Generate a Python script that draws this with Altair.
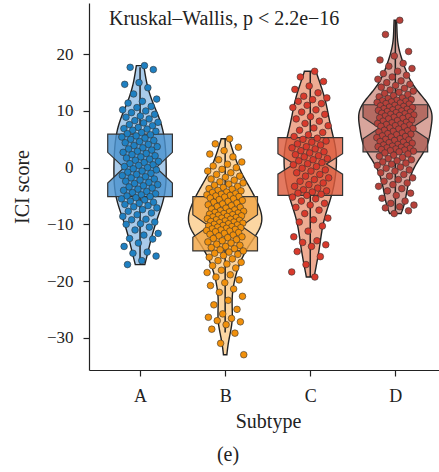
import altair as alt
import pandas as pd
import numpy as np

subtypes = ["A", "B", "C", "D"]
positions = [1, 2, 3, 4]

scores_A = [18.0, 17.7, 17.3, 15.0, 14.7, 14.1, 13.0, 12.1, 11.7, 11.4, 10.8, 10.6, 10.2, 10.0, 9.7, 9.4,
            9.1, 8.9, 8.6, 8.3, 8.0, 7.9, 7.6, 7.4, 7.1, 6.9, 6.8, 6.6, 6.4, 6.2, 6.0,
            5.8, 5.6, 5.4, 5.2, 5.0, 4.8, 4.6, 4.4, 4.1, 3.9, 3.7, 3.5, 3.3, 3.1, 2.9, 2.7,
            2.5, 2.3, 2.1, 1.9, 1.7, 1.5, 1.3, 1.1, 0.9, 0.7, 0.5, 0.4, 0.2, 0.0,
            -0.2, -0.4, -0.6, -0.8, -1.0, -1.2, -1.4, -1.6, -1.8, -2.0, -2.2, -2.4, -2.6,
            -2.8, -3.0, -3.2, -3.4, -3.6, -3.8, -4.0, -4.2, -4.4, -4.6, -4.8, -5.0, -5.1,
            -5.3, -5.5, -5.7, -5.9, -6.1, -6.3, -6.5, -6.7, -6.9, -7.1, -7.4, -7.7, -8.0, -8.3,
            -8.6, -9.1, -9.2, -9.6, -9.9, -10.0, -10.5, -11.0, -11.6, -11.9, -12.5, -12.6,
            -13.3, -13.9, -14.9, -15.1, -15.6, -16.4, -17.1]

scores_B = [5.1, 4.2, 3.6, 3.0, 2.4, 1.9, 1.4, 1.0, 0.6, 0.3, 0.0, -0.3, -0.6, -0.9, -1.2, -1.5,
            -1.7, -2.0, -2.2, -2.5, -2.7, -2.9, -3.1, -3.3, -3.5, -3.7, -3.8, -4.0, -4.1, -4.3,
            -4.4, -4.6, -4.7, -4.8, -4.9, -5.0, -5.1,
            -5.2, -5.35, -5.5, -5.65, -5.8, -5.95, -6.1, -6.25, -6.4, -6.55, -6.7, -6.85, -7.0,
            -7.15, -7.3, -7.45, -7.6, -7.7, -7.8, -7.9, -8.0, -8.1, -8.2, -8.3, -8.4, -8.5,
            -8.6, -8.7, -8.8, -8.9, -9.0, -9.1, -9.2, -9.3, -9.4, -9.5, -9.6, -9.7, -9.8,
            -9.9, -10.0, -10.1, -10.2,
            -10.3, -10.4, -10.5, -10.6, -10.7, -10.8, -10.9, -11.0, -11.1, -11.2, -11.3, -11.45,
            -11.6, -11.75, -11.9, -12.05, -12.2, -12.35, -12.5, -12.7, -12.9, -13.1, -13.3,
            -13.5, -13.7, -13.9, -14.1, -14.3, -14.5, -14.7,
            -14.9, -15.1, -15.3, -15.5, -15.8, -16.1, -16.4, -16.7, -17.0, -17.3, -17.7, -18.1,
            -18.5, -18.9, -19.3, -19.8, -20.3, -20.8, -21.4, -22.0, -22.7, -23.4, -24.2, -25.0,
            -25.8, -26.4, -26.6, -27.0, -27.2, -27.7, -28.5, -29.2, -31.0, -33.0]

scores_C = [17.0, 16.0, 15.2, 14.4, 13.8, 13.2, 12.6, 12.3, 12.0, 11.7, 11.3, 11.0, 10.6, 10.2,
            9.8, 9.4, 9.0, 8.6, 8.2, 7.8, 7.4, 7.0, 6.6, 6.2, 5.8, 5.5,
            5.2, 5.0, 4.7, 4.5, 4.2, 4.0, 3.7, 3.5, 3.3, 3.0, 2.8, 2.6, 2.3, 2.1, 1.9, 1.6,
            1.4, 1.2, 0.9, 0.7,
            0.5, 0.2, -0.1, -0.4, -0.6, -0.9, -1.2, -1.5, -1.8, -2.1, -2.4, -2.7, -3.0, -3.3,
            -3.6, -3.9, -4.1, -4.3, -4.5, -4.7, -4.9,
            -5.2, -5.5, -5.9, -6.3, -6.6, -7.0, -7.5, -8.1, -8.9, -9.2, -9.6, -10.3, -11.2,
            -12.2, -12.9, -13.2, -13.6, -13.9, -14.8, -15.7, -17.1, -18.4, -19.3]

scores_D = [26.0, 23.5, 20.5, 19.7, 19.0, 18.4, 17.9, 17.5, 17.0, 16.6, 16.3, 16.0, 15.6, 15.3,
            15.0, 14.7, 14.5, 14.2, 14.0, 13.7, 13.5, 13.3, 13.1, 12.9, 12.7, 12.5, 12.3, 12.2,
            12.0, 11.9, 11.8, 11.7, 11.6, 11.5, 11.4, 11.3, 11.2,
            11.0, 10.9, 10.8, 10.7, 10.6, 10.5, 10.4, 10.3, 10.2, 10.1, 10.0, 9.9, 9.8, 9.7,
            9.6, 9.5, 9.4, 9.3, 9.2, 9.1, 9.0, 8.9, 8.8, 8.7, 8.6, 8.4, 8.3, 8.2, 8.0, 7.9,
            7.8, 7.7, 7.6, 7.5, 7.4, 7.3, 7.2,
            7.0, 6.9, 6.8, 6.6, 6.5, 6.4, 6.3, 6.1, 6.0, 5.9, 5.8, 5.6, 5.5, 5.4, 5.3, 5.1,
            5.0, 4.9, 4.8, 4.6, 4.5, 4.4, 4.3, 4.1, 4.0, 3.9, 3.8, 3.7, 3.6, 3.5, 3.4, 3.3,
            3.2, 3.1, 3.0, 2.9, 2.8,
            2.6, 2.4, 2.2, 2.0, 1.8, 1.6, 1.4, 1.2, 1.0, 0.8, 0.6, 0.4, 0.1, -0.1, -0.4, -0.6,
            -0.9, -1.2, -1.5, -1.8, -2.1, -2.4, -2.7, -3.0, -3.3, -3.7, -4.1, -4.5, -4.9, -5.4,
            -5.9, -6.3, -6.6, -6.9, -7.1, -7.6, -8.1]

# box statistics
box_q1 = [-5.1, -14.7, -4.9, 2.8]
box_median = [0.0, -10.3, 0.65, 7.0]
box_q3 = [5.9, -5.1, 5.3, 11.1]
box_notch = [2.7, 2.0, 1.8, 1.9]
whisker_low = [-16.9, -29.1, -19.3, -8.1]
whisker_high = [17.7, 5.1, 17.0, 26.0]

point_colors = ["#1f80c2", "#f1900c", "#d83a2c", "#b6413a"]
violin_colors = ["#a9cbea", "#fcd6a2", "#eeab92", "#d9a59c"]
box_colors = ["#4a93cf", "#f0a546", "#dd5b3d", "#ad5f57"]

all_scores = [scores_A, scores_B, scores_C, scores_D]

rows = []
for s, p, vals in zip(subtypes, positions, all_scores):
    for v in vals:
        rows.append({"subtype": s, "pos": p, "score": v})
points_df = pd.DataFrame(rows)

box_df = pd.DataFrame({
    "subtype": subtypes, "pos": positions, "q1": box_q1, "med": box_median,
    "q3": box_q3, "notch": box_notch, "lo": whisker_low, "hi": whisker_high,
})

xscale = alt.Scale(domain=[0.4, 4.513], nice=False, zero=False)
yscale = alt.Scale(domain=[-35.7, 29.05], nice=False, zero=False)
FONT = "Liberation Serif"
K = 7.3  # density -> x units

xaxis = alt.Axis(values=[1, 2, 3, 4], labelExpr="['A','B','C','D'][datum.value - 1]",
                 title="Subtype", grid=False, tickSize=6, tickColor="#222", domainColor="#222",
                 domainWidth=1.2, tickWidth=1.2, labelFont=FONT, labelFontSize=18,
                 labelColor="#222", labelBaseline="alphabetic", labelPadding=25,
                 titleFont=FONT, titleFontSize=20, titleFontWeight="normal", titleColor="#222",
                 titleX=179, titleY=57, titleBaseline="alphabetic")
yaxis = alt.Axis(values=[-30, -20, -10, 0, 10, 20], title="ICI score", grid=False, tickSize=6,
                 tickColor="#222", domainColor="#222", domainWidth=1.2, tickWidth=1.2,
                 labelFont=FONT, labelFontSize=17, labelColor="#222", labelPadding=10,
                 titleFont=FONT, titleFontSize=20, titleFontWeight="normal", titleColor="#222",
                 titleX=-61, titleBaseline="alphabetic")

layers = []
for i, (s, p, vals) in enumerate(zip(subtypes, positions, all_scores)):
    arr = np.array(vals)
    iqr = np.percentile(arr, 75) - np.percentile(arr, 25)
    bw = 0.9 * min(arr.std(ddof=1), iqr / 1.34) * len(arr) ** (-0.2)
    v = (alt.Chart(points_df)
         .transform_filter(alt.datum.subtype == s)
         .transform_density("score", as_=["score", "density"], bandwidth=float(bw),
                            extent=[float(arr.min()), float(arr.max())], steps=200)
         .transform_calculate(xl=f"{p} - datum.density * {K}", xr=f"{p} + datum.density * {K}")
         .mark_area(orient="horizontal", fill=violin_colors[i], stroke="#222", strokeWidth=1.4)
         .encode(y=alt.Y("score:Q", scale=yscale, axis=yaxis),
                 x=alt.X("xl:Q", scale=xscale, axis=xaxis), x2="xr:Q"))
    layers.append(v)

whisk_hi = alt.Chart(box_df).mark_rule(color="#222", strokeWidth=1.5).encode(
    x=alt.X("pos:Q", scale=xscale), y=alt.Y("q3:Q", scale=yscale), y2="hi:Q")
whisk_lo = alt.Chart(box_df).mark_rule(color="#222", strokeWidth=1.5).encode(
    x=alt.X("pos:Q", scale=xscale), y=alt.Y("lo:Q", scale=yscale), y2="q1:Q")

boxes = (alt.Chart(box_df)
         .transform_fold(["k0", "k1", "k2", "k3", "k4"], as_=["key", "kv"])
         .transform_calculate(
             yv="datum.key == 'k0' ? datum.q1 : datum.key == 'k1' ? datum.med - datum.notch : "
                "datum.key == 'k2' ? datum.med : datum.key == 'k3' ? datum.med + datum.notch : datum.q3",
             hw="datum.key == 'k2' ? 0.19 : 0.38")
         .transform_calculate(bl="datum.pos - datum.hw", br="datum.pos + datum.hw")
         .mark_area(orient="horizontal", stroke="#333", strokeWidth=1.2, fillOpacity=0.82)
         .encode(y=alt.Y("yv:Q", scale=yscale), x=alt.X("bl:Q", scale=xscale), x2="br:Q",
                 fill=alt.Fill("subtype:N", scale=alt.Scale(domain=subtypes, range=box_colors),
                               legend=None),
                 detail="subtype:N"))

pts = (alt.Chart(points_df)
       .transform_window(rn="row_number()", groupby=["subtype"])
       .transform_calculate(jx="datum.pos + ((datum.rn * 0.6180339887) % 1 - 0.5) * 0.44")
       .mark_circle(size=44, opacity=1, stroke="#333", strokeWidth=0.6)
       .encode(x=alt.X("jx:Q", scale=xscale), y=alt.Y("score:Q", scale=yscale),
               color=alt.Color("subtype:N", scale=alt.Scale(domain=subtypes, range=point_colors),
                               legend=None)))

label_df = pd.DataFrame({"label": ["Kruskal\u2013Wallis, p < 2.2e\u221216"]})
txt = alt.Chart(label_df).mark_text(align="left", baseline="alphabetic", font=FONT, fontSize=20,
                                    color="#222").encode(
    x=alt.value(20), y=alt.value(22), text="label:N")

chart = (alt.layer(*layers, whisk_hi, whisk_lo, boxes, pts, txt)
         .resolve_scale(fill="independent", color="independent")
         .properties(width=350, height=367,
                     title=alt.TitleParams("(e)", orient="bottom", anchor="middle", font=FONT,
                                           fontSize=20, fontWeight="normal", color="#222",
                                           dx=-36, offset=14),
                     autosize=alt.AutoSizeParams(type="none"),
                     padding={"left": 89, "top": 3, "right": 0, "bottom": 102})
         .configure_view(stroke=None))

chart.save("out.html", embed_options={"renderer": "svg", "actions": False})
